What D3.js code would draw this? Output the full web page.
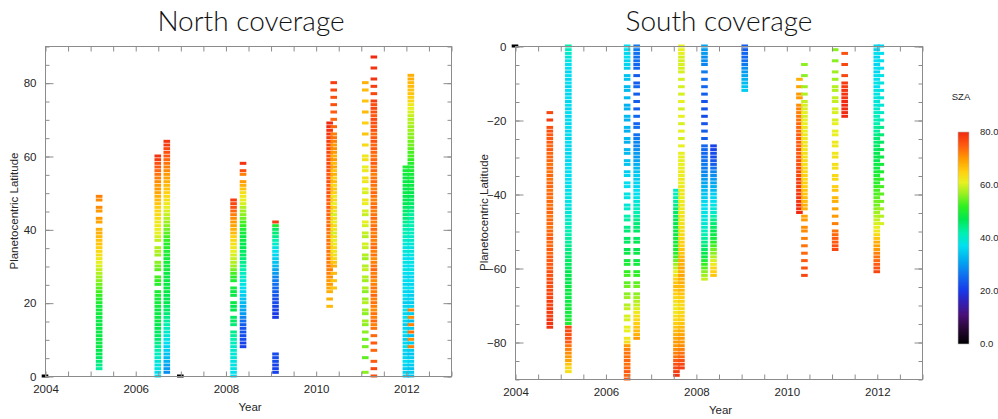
<!DOCTYPE html>
<html><head><meta charset="utf-8">
<script src="https://cdn.jsdelivr.net/npm/d3@7"></script>
<style>body{margin:0;background:#fff}svg{display:block}</style>
</head><body>
<svg id="c" width="998" height="419"></svg>
<script>
// ---------- tick labels ----------
const xTicks = [2004, 2006, 2008, 2010, 2012];
const northYTicks = [0, 20, 40, 60, 80];
const southYTicks = [0, -20, -40, -60, -80];
const szaTicks = [0, 20, 40, 60, 80];
const titles = ["North coverage", "South coverage"];

// ---------- colour table (SZA -> colour) ----------
const szaStops = [0, 6, 11, 16, 20, 26, 32, 37, 42, 47, 52, 57, 61, 65, 70, 75, 80];
const szaColors = ["#000000","#2a0838","#4a1078","#3020b8","#1838e8","#1070f0","#00b0f0","#00e0f0",
                   "#00f0b0","#00e850","#30f020","#a0f020","#e8f020","#ffd010","#ff9a00","#ff5a10","#f02a10"];

// ---------- North coverage data ----------
const northYears = [2005.2, 2006.5, 2006.7, 2008.18, 2008.39, 2009.11, 2010.31, 2010.4, 2011.1, 2011.29, 2012.0, 2012.11, 2004.0, 2007.0];
const northLat = [
 [2,3,4,5,6,7,8,9,10,11,12,13,14,15,16,17,18,19,20,21,22,23,24,25,26,27,28,29,30,31,32,33,34,35,36,37,38,39,40,42,43,45,46,48,49],
 [0,1,2,3,4,5,6,7,8,9,10,11,12,13,14,15,16,17,18,19,20,21,22,23,25,26,27,29,30,31,33,34,35,37,38,39,40,41,42,43,44,45,46,47,48,49,50,51,52,53,54,55,56,57,58,59,60],
 [1,2,3,4,5,6,7,8,9,10,11,12,13,14,15,16,17,18,19,20,21,22,23,24,25,26,27,28,29,30,31,32,33,34,35,36,37,38,39,40,41,42,43,44,45,46,47,48,49,50,51,52,53,54,55,56,57,58,59,60,61,62,63,64],
 [0,1,2,3,4,5,6,7,8,9,10,11,12,14,15,16,18,19,20,22,23,24,26,27,28,29,30,31,32,33,34,35,36,37,38,39,40,41,42,43,44,45,46,47,48],
 [8,9,10,11,12,13,14,15,16,17,18,19,20,21,22,23,24,25,26,27,28,29,30,31,32,33,34,35,36,37,38,39,40,41,42,43,44,45,46,47,48,49,50,51,52,53,55,56,58],
 [1,2,3,4,5,6,16,17,18,19,20,21,22,23,24,25,26,27,28,29,30,31,32,33,34,35,36,37,38,39,40,41,42],
 [19,21,23,24,25,26,27,28,29,30,31,32,33,34,35,36,37,38,39,40,41,42,43,44,45,46,47,48,49,50,51,52,53,54,55,56,57,58,59,60,61,62,63,64,65,66,67,68,69],
 [24,26,28,30,31,32,33,34,35,36,37,38,39,40,41,42,43,44,45,46,47,48,49,50,51,52,53,54,55,56,57,58,59,60,61,62,63,64,65,66,68,70,72,74,76,78,80],
 [1,5,8,10,12,14,15,17,18,20,21,23,24,26,27,29,30,32,33,35,36,38,39,41,42,44,45,47,48,50,51,53,54,56,57,59,60,63,66,69,72,75,78,80],
 [0,2,4,7,9,11,13,14,15,16,17,18,19,20,21,22,23,24,25,26,27,28,29,30,31,32,33,34,35,36,37,38,39,40,41,42,43,44,45,46,47,48,49,50,51,52,53,54,55,56,57,58,59,60,61,62,63,64,65,66,67,68,69,70,71,72,73,74,75,77,79,81,84,87],
 [0,1,2,3,4,5,6,7,8,9,10,11,12,13,14,15,16,17,18,19,20,21,22,23,24,25,26,27,28,29,30,31,32,33,34,35,36,37,38,39,40,41,42,43,44,45,46,47,48,49,50,51,52,53,54,55,56,57],
 [0,1,2,3,4,5,6,7,8,9,10,11,12,13,14,15,16,17,18,19,20,21,22,23,24,25,26,27,28,29,30,31,32,33,34,35,36,37,38,39,40,41,42,43,44,45,46,47,48,49,50,51,52,53,54,55,56,57,58,59,60,61,62,63,64,65,66,67,68,69,70,71,72,73,74,75,76,77,78,79,80,81,82],
 [0],
 [0]
];
const northSZA = [
 [43,44,45,46,47,47,48,48,48,48,48,48,48,48,48,49,49,49,50,51,52,53,54,55,56,57,58,59,60,61,62,63,64,65,66,66,67,68,68,69,70,70,71,71,72],
 [37,37,38,38,39,40,41,42,43,44,45,46,46,47,47,48,48,48,48,49,49,49,50,50,51,52,53,54,55,56,57,58,58,59,60,61,61,62,62,63,64,64,65,66,67,68,69,70,70,71,72,73,74,75,76,78,79],
 [29,30,31,32,33,34,35,36,37,38,39,40,41,42,43,44,45,46,46,47,47,47,48,48,48,48,48,48,49,49,49,49,50,50,51,51,52,53,54,55,56,57,58,59,60,61,62,63,64,65,66,67,68,69,70,71,72,73,74,75,76,77,78,79],
 [37,37,38,38,38,39,39,40,40,41,42,43,44,45,46,46,47,47,48,48,48,49,50,51,53,55,57,58,59,60,61,62,63,64,65,67,68,69,70,71,72,74,76,77,78],
 [21,21,22,22,23,23,24,26,28,30,31,32,33,34,35,36,37,38,39,40,41,42,43,44,45,46,46,47,47,48,48,49,50,52,53,55,56,57,58,60,61,62,63,66,68,70,72,76,79],
 [21,21,21,22,22,22,20,20,21,21,22,22,23,24,25,26,27,28,30,31,33,34,35,36,37,38,40,42,44,45,46,50,78],
 [67,68,68,69,70,70,71,72,72,73,72,73,72,73,72,73,73,72,73,73,74,73,74,74,74,75,74,75,75,76,75,75,76,76,75,76,76,77,76,76,77,77,77,78,78,79,79,80,80],
 [66,66,67,68,66,64,63,62,64,62,61,63,60,62,64,61,63,60,62,65,61,64,62,65,66,64,67,65,68,66,69,67,70,68,70,71,70,72,73,72,74,74,75,76,76,77,78],
 [56,54,55,55,56,56,57,56,57,58,57,56,58,57,58,59,58,57,58,59,60,58,59,60,61,59,60,61,62,60,61,62,63,62,61,63,62,64,66,65,67,66,67,68],
 [76,77,75,74,75,74,73,72,74,72,73,71,72,73,72,74,72,73,72,71,73,72,74,73,72,71,73,72,74,73,72,73,72,74,73,72,74,73,72,74,73,72,73,74,72,73,74,73,72,74,73,75,74,73,74,75,74,76,75,74,76,75,76,77,75,76,77,76,78,77,78,79,79,80],
 [35,36,35,36,37,36,35,36,37,36,35,36,37,36,35,36,37,36,37,36,35,36,37,36,37,36,37,36,37,38,37,38,37,38,39,38,39,40,41,42,42,43,44,45,45,46,46,47,47,47,48,47,48,48,48,49,49,50],
 [34,35,34,35,36,35,34,35,72,35,71,34,73,35,72,34,71,35,72,36,35,36,35,36,37,36,37,36,37,38,37,38,37,38,39,38,39,40,40,41,41,42,42,43,43,44,45,46,46,47,47,48,48,48,49,49,50,50,51,52,53,53,54,55,55,56,56,57,57,58,58,59,60,61,62,64,65,66,66,67,67,68,68],
 [0],
 [0]
];

// ---------- South coverage data ----------
const southYears = [2004.77, 2005.18, 2006.48, 2006.69, 2007.57, 2007.68, 2008.19, 2008.39, 2009.08, 2010.29, 2010.40, 2011.08, 2011.29, 2012.0, 2012.09, 2004.0];
const southLat = [
 [-18,-20,-22,-23,-24,-25,-26,-27,-28,-29,-30,-31,-32,-33,-34,-35,-36,-37,-38,-39,-40,-41,-42,-43,-44,-45,-46,-47,-48,-49,-50,-51,-52,-53,-54,-55,-56,-57,-58,-59,-60,-61,-62,-63,-64,-65,-66,-67,-68,-69,-70,-71,-72,-73,-74,-75,-76],
 [0,-1,-2,-3,-4,-5,-6,-7,-8,-9,-10,-11,-12,-13,-14,-15,-16,-17,-18,-19,-20,-21,-22,-23,-24,-25,-26,-27,-28,-29,-30,-31,-32,-33,-34,-35,-36,-37,-38,-39,-40,-41,-42,-43,-44,-45,-46,-47,-48,-49,-50,-51,-52,-53,-54,-55,-56,-57,-58,-59,-60,-61,-62,-63,-64,-65,-66,-67,-68,-69,-70,-71,-72,-73,-74,-75,-76,-77,-78,-79,-80,-81,-82,-83,-84,-85,-86,-87,-88],
 [0,-1,-2,-3,-4,-5,-6,-8,-9,-11,-12,-14,-16,-17,-19,-20,-22,-23,-25,-26,-28,-29,-31,-32,-34,-35,-37,-38,-40,-41,-43,-44,-46,-47,-49,-50,-52,-53,-55,-56,-58,-59,-61,-62,-64,-65,-67,-68,-70,-71,-73,-74,-76,-77,-79,-80,-81,-82,-83,-84,-85,-86,-87,-88,-89,-90],
 [0,-1,-2,-3,-4,-5,-6,-8,-10,-11,-13,-15,-17,-19,-21,-22,-24,-25,-26,-27,-28,-29,-30,-31,-32,-33,-34,-35,-36,-37,-38,-39,-40,-41,-42,-43,-44,-45,-46,-47,-48,-49,-50,-52,-53,-55,-56,-58,-59,-61,-62,-64,-65,-67,-68,-69,-70,-71,-72,-73,-74,-75,-76,-77,-78,-79],
 [-39,-40,-41,-42,-43,-44,-45,-46,-47,-48,-49,-50,-51,-52,-53,-54,-55,-56,-57,-58,-59,-60,-61,-62,-63,-64,-65,-66,-67,-68,-69,-70,-71,-72,-73,-74,-75,-76,-77,-78,-79,-80,-81,-82,-83,-84,-85,-86,-87,-88,-89],
 [0,-1,-2,-3,-4,-5,-6,-7,-9,-11,-13,-15,-17,-19,-21,-23,-25,-27,-29,-30,-31,-32,-33,-34,-35,-36,-37,-38,-39,-40,-41,-42,-43,-44,-45,-46,-47,-48,-49,-50,-51,-52,-53,-54,-55,-56,-57,-58,-59,-60,-61,-62,-63,-64,-65,-66,-67,-68,-69,-70,-71,-72,-73,-74,-75,-76,-77,-78,-79,-80,-81,-82,-83,-84,-85,-86,-87],
 [0,-1,-2,-3,-4,-5,-7,-9,-11,-13,-15,-17,-19,-21,-23,-25,-27,-28,-29,-30,-31,-32,-33,-34,-35,-36,-37,-38,-39,-40,-41,-42,-43,-44,-45,-46,-47,-48,-49,-50,-51,-52,-53,-54,-55,-56,-57,-58,-59,-60,-61,-62,-63],
 [-27,-28,-29,-30,-31,-32,-33,-34,-35,-36,-37,-38,-39,-40,-41,-42,-43,-44,-45,-46,-47,-48,-49,-50,-51,-52,-53,-54,-55,-56,-57,-58,-59,-60,-61,-62],
 [0,-1,-2,-3,-4,-5,-6,-7,-8,-9,-10,-11,-12],
 [-9,-11,-13,-14,-16,-17,-18,-19,-20,-21,-22,-23,-24,-25,-26,-27,-28,-29,-30,-31,-32,-33,-34,-35,-36,-37,-38,-39,-40,-41,-42,-43,-44,-45],
 [-5,-8,-11,-13,-15,-16,-17,-18,-19,-20,-21,-22,-23,-24,-25,-26,-27,-28,-29,-30,-31,-32,-33,-34,-35,-36,-37,-38,-39,-40,-41,-42,-43,-44,-46,-47,-49,-50,-52,-54,-56,-58,-60,-62],
 [-1,-4,-7,-9,-11,-12,-14,-15,-17,-18,-20,-21,-23,-24,-26,-27,-29,-30,-32,-33,-35,-36,-38,-39,-41,-42,-44,-46,-48,-50,-51,-52,-53,-54,-55],
 [-2,-5,-8,-10,-11,-12,-13,-14,-15,-16,-17,-18,-19],
 [0,-1,-2,-3,-4,-5,-6,-7,-8,-9,-10,-11,-12,-13,-14,-15,-16,-17,-18,-19,-20,-21,-22,-23,-24,-25,-26,-27,-28,-29,-30,-31,-32,-33,-34,-35,-36,-37,-38,-39,-40,-41,-42,-43,-44,-45,-46,-47,-48,-49,-50,-51,-52,-53,-54,-55,-56,-57,-58,-59,-60,-61],
 [0,-2,-4,-6,-8,-10,-12,-14,-16,-18,-20,-22,-24,-26,-28,-30,-32,-34,-36,-38,-40,-42,-44,-46,-48],
 [0]
];
const southSZA = [
 [77,78,76,76,75,75,75,74,75,74,74,74,73,74,73,74,73,74,74,73,74,73,74,73,74,74,73,74,74,73,74,74,75,74,74,75,74,75,75,75,75,76,76,76,77,76,77,77,77,78,77,78,78,78,79,79,79],
 [42,41,40,39,38,37,37,36,37,36,37,36,37,36,37,36,37,36,37,36,37,36,37,36,37,36,37,36,37,36,37,36,37,37,37,37,37,37,38,37,38,38,38,38,39,39,40,40,41,41,42,42,43,43,44,44,45,45,46,46,46,47,47,47,47,48,48,48,48,48,49,49,49,49,50,50,77,77,76,76,75,73,72,71,70,69,66,64,63],
 [37,37,36,37,36,36,35,34,34,33,33,33,32,32,33,32,33,32,33,32,33,33,34,34,35,36,37,37,38,38,39,40,42,43,44,45,46,46,47,48,49,50,52,53,54,55,56,57,58,59,60,60,61,61,62,63,70,72,73,73,74,73,74,75,74,75],
 [27,27,26,26,26,25,25,24,24,25,24,24,24,25,25,26,26,27,28,28,29,30,30,31,32,33,34,35,35,36,36,37,37,38,39,40,41,42,43,44,45,45,46,46,47,47,48,48,49,51,52,54,55,56,57,58,59,60,62,63,64,65,66,67,68,70],
 [40,41,42,43,44,45,46,46,47,47,48,48,48,49,49,50,50,51,53,55,57,59,61,63,65,66,67,66,65,64,63,62,62,62,63,64,65,66,67,68,69,70,70,71,72,73,75,76,77,78,79],
 [61,61,61,60,60,60,60,60,60,60,60,61,60,61,60,61,60,61,61,61,61,61,61,62,61,62,61,62,62,62,61,62,62,62,62,63,62,63,63,63,64,64,65,65,66,66,67,68,68,69,68,69,68,68,67,67,66,65,65,64,64,64,65,65,66,67,68,69,70,70,71,72,73,74,76,77,78],
 [31,30,30,29,29,28,27,26,25,24,23,23,22,23,24,24,25,25,25,26,26,27,27,28,29,30,31,32,33,34,35,36,37,37,38,38,39,39,40,41,42,43,44,45,46,47,48,50,52,54,56,57,59],
 [21,21,22,22,23,24,26,28,29,30,31,32,33,35,36,37,38,39,40,42,44,45,46,47,48,49,51,53,55,56,58,60,62,64,65,66],
 [24,24,25,25,26,27,29,30,31,32,33,34,35],
 [68,69,70,70,71,72,72,73,73,74,74,74,75,75,75,75,76,75,76,76,76,77,77,77,78,78,78,78,79,79,79,80,80,80],
 [56,56,57,58,59,60,60,61,60,61,61,62,61,62,62,62,63,62,63,63,64,63,64,64,65,64,65,65,66,66,67,67,68,68,69,70,71,71,72,73,74,75,76,77],
 [56,56,57,57,58,58,59,59,60,60,60,61,61,61,62,62,62,63,63,63,64,64,65,66,67,68,69,70,72,73,74,75,75,76,77],
 [76,77,77,78,78,79,79,79,80,80,80,80,80],
 [36,36,37,36,37,36,37,36,37,37,38,37,38,38,38,39,39,40,41,41,42,42,43,43,44,45,45,46,46,47,47,47,48,48,49,50,51,51,52,53,53,54,55,55,56,57,58,59,60,61,62,64,66,68,69,70,72,73,74,75,76,77],
 [36,37,37,37,38,38,38,39,39,40,41,44,45,46,47,48,49,50,52,53,54,55,57,58,60],
 [0]
];

// ---------- drawing ----------
const svg = d3.select("#c");
const axisCol = "#8c8c8c";
const textCol = "#262626";
const tickFont = "Liberation Sans, Arial, Helvetica, sans-serif";
const color = d3.scaleLinear().domain(szaStops).range(szaColors).clamp(true);

function styleAxis(g) {
  g.select(".domain").remove();
  g.selectAll(".tick line").attr("stroke", axisCol).attr("stroke-width", 1);
  g.selectAll(".tick text").attr("fill", textCol).attr("font-family", tickFont).attr("font-size", 11.5);
}

function drawPanel(p) {
  const x = d3.scaleLinear().domain([2004, 2013]).range([p.x0, p.x1]);
  const y = d3.scaleLinear().domain(p.yDom).range([p.yBot, p.yTop]);
  const g = svg.append("g");

  // data dashes
  p.years.forEach((yr, i) => {
    const pts = p.lats[i].map((l, j) => ({lat: l, sza: p.szas[i][Math.min(j, p.szas[i].length - 1)]}));
    g.append("g").selectAll("rect").data(pts).join("rect")
      .attr("x", x(yr) - 3.3)
      .attr("y", d => y(d.lat) - 1.5)
      .attr("width", 6.6)
      .attr("height", 3.0)
      .attr("fill", d => color(d.sza));
  });

  // frame
  g.append("rect").attr("x", p.x0 + 0.5).attr("y", p.yTop + 0.5)
    .attr("width", p.x1 - p.x0).attr("height", p.yBot - p.yTop)
    .attr("fill", "none").attr("stroke", axisCol).attr("stroke-width", 1);

  const xMinor = d3.range(2004, 2013.001, 0.5);
  const yMinor = d3.range(p.yDom[0], p.yDom[1] + 0.001, 5);

  g.append("g").attr("transform", `translate(0.5,${p.yBot + 0.5})`)
    .call(d3.axisBottom(x).tickValues(xMinor).tickSize(-5).tickPadding(8)
      .tickFormat(d => xTicks.includes(d) ? String(d) : ""))
    .call(styleAxis);
  g.append("g").attr("transform", `translate(0.5,${p.yTop + 0.5})`)
    .call(d3.axisTop(x).tickValues(xMinor).tickSize(-5).tickFormat(""))
    .call(styleAxis);

  g.append("g").attr("transform", `translate(${p.x0 + 0.5},0.5)`)
    .call(d3.axisLeft(y).tickValues(yMinor).tickSize(-4).tickFormat(""))
    .call(styleAxis);
  g.append("g").attr("transform", `translate(${p.x1 + 0.5},0.5)`)
    .call(d3.axisRight(y).tickValues(yMinor).tickSize(-4).tickFormat(""))
    .call(styleAxis);
  g.append("g").attr("transform", `translate(${p.x0 + 0.5},0.5)`)
    .call(d3.axisLeft(y).tickValues(p.yTicks).tickSize(-8).tickPadding(9).tickFormat(d3.format("d")))
    .call(styleAxis);
  g.append("g").attr("transform", `translate(${p.x1 + 0.5},0.5)`)
    .call(d3.axisRight(y).tickValues(p.yTicks).tickSize(-8).tickFormat(""))
    .call(styleAxis);

  g.append("text").attr("x", (p.x0 + p.x1) / 2 + 2).attr("y", p.yBot + 35)
    .attr("text-anchor", "middle").attr("font-family", tickFont).attr("font-size", 11.5)
    .attr("fill", textCol).text("Year");
  g.append("text").attr("transform", `translate(${p.x0 - 27},${(p.yTop + p.yBot) / 2}) rotate(-90)`)
    .attr("text-anchor", "middle").attr("font-family", tickFont).attr("font-size", 11.5)
    .attr("fill", textCol).text("Planetocentric Latitude");

  g.append("text").attr("x", p.titleX).attr("y", 31)
    .attr("text-anchor", "middle").attr("font-family", "Lato, 'Open Sans', sans-serif")
    .attr("font-weight", 300)
    .attr("font-size", 28).attr("fill", "#111").text(p.title);
}

drawPanel({x0: 45, x1: 451, yTop: 46, yBot: 376, yDom: [0, 90], yTicks: northYTicks,
  years: northYears, lats: northLat, szas: northSZA, title: titles[0], titleX: 251});
drawPanel({x0: 515, x1: 922, yTop: 46, yBot: 379, yDom: [-90, 0], yTicks: southYTicks,
  years: southYears, lats: southLat, szas: southSZA, title: titles[1], titleX: 719});

// ---------- colour bar ----------
const cb = d3.scaleLinear().domain([0, 80]).range([344, 132]);
const defs = svg.append("defs");
const grad = defs.append("linearGradient").attr("id", "szaGrad")
  .attr("x1", 0).attr("y1", 1).attr("x2", 0).attr("y2", 0);
grad.selectAll("stop").data(szaStops).join("stop")
  .attr("offset", d => d / 80).attr("stop-color", (d, i) => szaColors[i]);
svg.append("rect").attr("x", 958).attr("y", cb(80)).attr("width", 11).attr("height", cb(0) - cb(80))
  .attr("fill", "url(#szaGrad)").attr("stroke", "#bbb").attr("stroke-width", 0.6);
svg.append("g").selectAll("text").data(szaTicks).join("text")
  .attr("x", 980).attr("y", d => cb(d)).attr("dy", "0.35em")
  .attr("font-family", tickFont).attr("font-size", 9.5).attr("fill", textCol)
  .text(d => d3.format(".1f")(d));
svg.append("text").attr("x", 961).attr("y", 97).attr("dy", "0.35em").attr("text-anchor", "middle")
  .attr("font-family", tickFont).attr("font-size", 9.5).attr("fill", textCol).text("SZA");
</script>
</body></html>
